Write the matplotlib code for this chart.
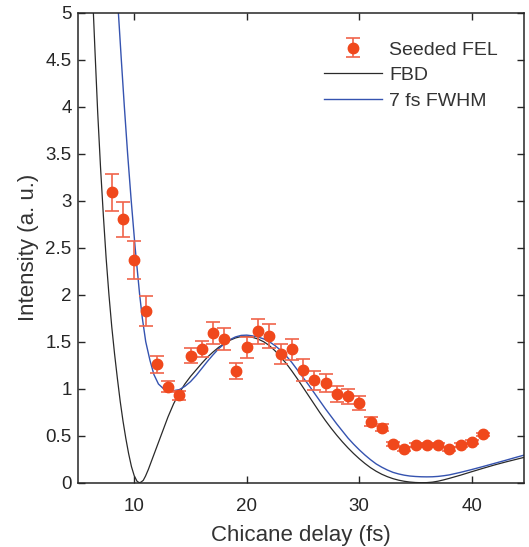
import matplotlib
matplotlib.use("Agg")
import matplotlib.pyplot as plt
from matplotlib.ticker import FormatStrFormatter

# measured seeded FEL intensity vs chicane delay
delay = [8, 9, 10, 11, 12, 13, 14, 15, 16, 17, 18, 19, 20, 21, 22, 23, 24,
         25, 26, 27, 28, 29, 30, 31, 32, 33, 34, 35, 36, 37, 38, 39, 40, 41]
intensity = [3.09, 2.80, 2.37, 1.83, 1.26, 1.02, 0.93, 1.35, 1.42, 1.59, 1.53,
             1.19, 1.44, 1.61, 1.56, 1.37, 1.42, 1.20, 1.09, 1.06, 0.94, 0.92,
             0.85, 0.65, 0.585, 0.415, 0.36, 0.40, 0.40, 0.405, 0.355, 0.405,
             0.436, 0.514]
err = [0.195, 0.19, 0.20, 0.16, 0.09, 0.06, 0.05, 0.08, 0.085, 0.115, 0.12,
       0.085, 0.115, 0.13, 0.13, 0.11, 0.11, 0.115, 0.10, 0.095, 0.085, 0.08,
       0.075, 0.05, 0.04, 0.02, 0.02, 0.02, 0.02, 0.02, 0.02, 0.02, 0.02, 0.02]

# FBD curve
fbd_x = [6.0, 6.25, 6.5, 6.75, 7.0, 7.25, 7.5, 7.75, 8.0, 8.25, 8.5, 8.75,
         9.0, 9.25, 9.5, 9.75, 10.0, 10.25, 10.45, 10.6, 10.8, 11.0, 11.25,
         11.5, 12.0, 12.5, 13.0, 13.5, 14.0, 14.5, 15.0, 15.5, 16.0, 16.5,
         17.0, 17.5, 18.0, 18.5, 19.0, 19.5, 20.0, 20.5, 21.0, 21.5, 22.0,
         22.5, 23.0, 23.5, 24.0, 24.5, 25.0, 25.5, 26.0, 26.5, 27.0, 27.5,
         28.0, 28.5, 29.0, 29.5, 30.0, 30.5, 31.0, 31.5, 32.0, 32.5, 33.0,
         33.5, 34.0, 34.5, 35.0, 35.5, 36.0, 36.5, 37.0, 37.5, 38.0, 39.0,
         40.0, 41.0, 42.0, 43.0, 44.0, 45.0]
fbd_y = [6.12, 5.33, 4.62, 3.94, 3.36, 2.85, 2.39, 2.0, 1.66, 1.37, 1.11, 0.867,
         0.656, 0.472, 0.309, 0.172, 0.073, 0.015, 0.0, 0.006, 0.025, 0.07, 0.14,
         0.22, 0.38, 0.54, 0.70, 0.84, 0.955, 1.05, 1.13, 1.20, 1.27, 1.335,
         1.39, 1.44, 1.48, 1.515, 1.54, 1.555, 1.557, 1.547, 1.528, 1.50, 1.46,
         1.405, 1.34, 1.27, 1.19, 1.105, 1.015, 0.925, 0.835, 0.745, 0.66, 0.58,
         0.505, 0.435, 0.37, 0.31, 0.255, 0.205, 0.16, 0.122, 0.09, 0.064, 0.043,
         0.027, 0.015, 0.007, 0.002, 0.0, 0.001, 0.006, 0.016, 0.03, 0.046, 0.08,
         0.117, 0.153, 0.188, 0.22, 0.25, 0.28]

# 7 fs FWHM curve
fwhm_x = [8.3, 8.59, 8.85, 9.12, 9.41, 9.73, 10.08, 10.48, 10.72, 11.02, 11.4,
          11.75, 12.15, 12.6, 13.3, 14.0, 14.5, 15.0, 15.5, 16.0, 16.5, 17.0,
          17.5, 18.0, 18.5, 19.0, 19.5, 20.0, 20.5, 21.0, 21.5, 22.0, 22.5,
          23.0, 23.5, 24.0, 24.5, 25.0, 25.5, 26.0, 26.5, 27.0, 27.5, 28.0,
          28.5, 29.0, 29.5, 30.0, 30.5, 31.0, 31.5, 32.0, 32.5, 33.0, 33.5,
          34.0, 34.5, 35.0, 35.5, 36.0, 36.5, 37.0, 37.5, 38.0, 39.0, 40.0,
          41.0, 42.0, 43.0, 44.0, 45.0]
fwhm_y = [5.6, 5.0, 4.5, 4.0, 3.5, 3.0, 2.5, 2.0, 1.75, 1.5, 1.3, 1.15, 1.05,
          1.0, 0.975, 0.99, 1.025, 1.075, 1.14, 1.215, 1.29, 1.36, 1.425, 1.478,
          1.522, 1.551, 1.567, 1.57, 1.562, 1.55, 1.53, 1.50, 1.46, 1.41, 1.35,
          1.28, 1.20, 1.12, 1.04, 0.955, 0.87, 0.785, 0.705, 0.625, 0.55, 0.475,
          0.41, 0.35, 0.295, 0.245, 0.20, 0.165, 0.135, 0.11, 0.093, 0.08,
          0.071, 0.066, 0.063, 0.062, 0.063, 0.067, 0.074, 0.083, 0.11, 0.14,
          0.172, 0.205, 0.238, 0.272, 0.305]

x_ticks = [10, 20, 30, 40]
y_ticks = [0, 0.5, 1, 1.5, 2, 2.5, 3, 3.5, 4, 4.5, 5]

RED, RED_BAR, BLUE, BLACK, INK = "#f0481c", "#f0644a", "#3553b0", "#262626", "#333333"

plt.rcParams.update({
    "font.family": ["Liberation Sans", "DejaVu Sans"], "text.color": INK,
    "xtick.color": BLACK, "ytick.color": BLACK, "axes.edgecolor": BLACK,
    "axes.labelcolor": INK})

fig = plt.figure(figsize=(5.29, 5.47), dpi=100)
ax = fig.add_axes([78 / 529, 64.3 / 547, 445.5 / 529, 470 / 547])

ax.plot(fbd_x, fbd_y, color="#2a2a2a", lw=0.9, label="FBD", zorder=2)
ax.plot(fwhm_x, fwhm_y, color=BLUE, lw=1.0, label="7 fs FWHM", zorder=2)
ax.errorbar(delay, intensity, yerr=err, fmt="o", color=RED, ms=7.5,
            mec=RED, ecolor=RED_BAR, elinewidth=1.2, capsize=4.8,
            capthick=1.2, label="Seeded FEL", zorder=3)

ax.set_xlim(5, 44.6)
ax.set_ylim(0, 5)
ax.set_xticks(x_ticks)
ax.set_yticks(y_ticks)
ax.yaxis.set_major_formatter(FormatStrFormatter("%g"))
ax.tick_params(direction="in", length=5, width=1, labelsize=13.5,
               top=True, right=True)
ax.tick_params(axis="x", pad=11)
ax.tick_params(axis="y", pad=4.5)
for s in ax.spines.values():
    s.set_linewidth(1.1)

ax.set_xlabel("Chicane delay (fs)", fontsize=16, labelpad=7)
ax.set_ylabel("Intensity (a. u.)", fontsize=16, labelpad=5)

h, l = ax.get_legend_handles_labels()
order = [2, 0, 1]
ax.legend([h[i] for i in order], [l[i] for i in order], frameon=False,
          fontsize=14, loc="upper left", bbox_to_anchor=(0.552, 0.94),
          borderpad=0, borderaxespad=0, handlelength=3.0, handletextpad=0.35,
          labelspacing=0.42)

fig.savefig("out.png", dpi=100)
